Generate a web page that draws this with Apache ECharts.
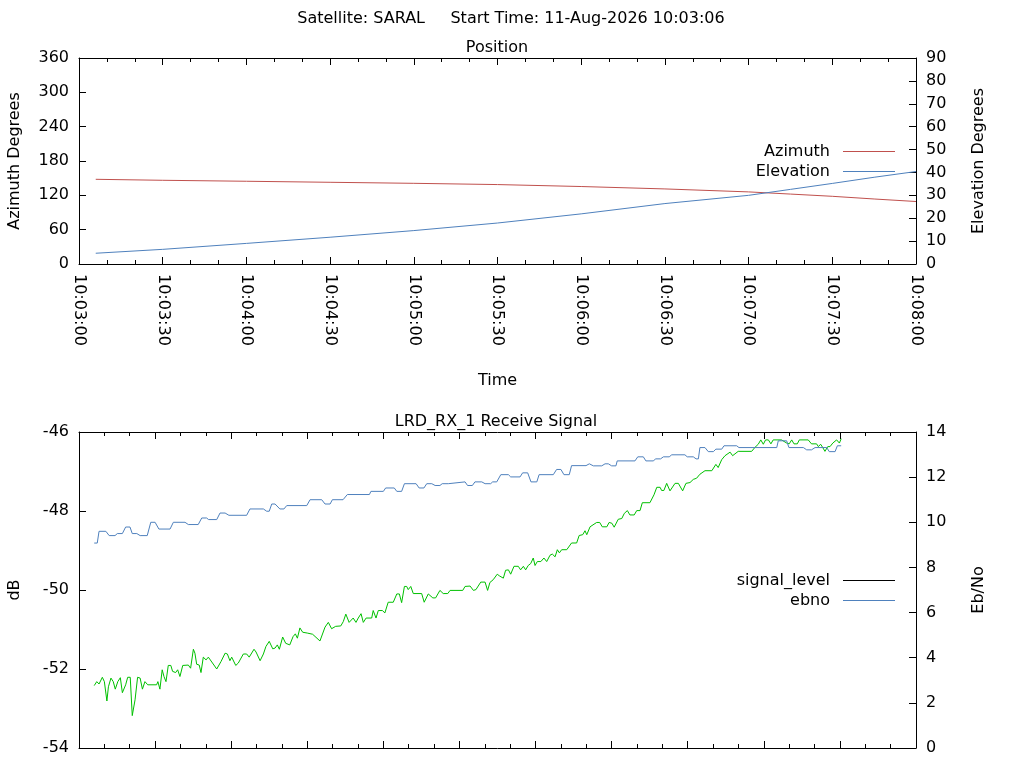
<!DOCTYPE html>
<html>
<head>
<meta charset="utf-8">
<script src="https://cdn.jsdelivr.net/npm/echarts@6/dist/echarts.min.js"></script>
<style>
html, body { margin: 0; padding: 0; background: #fff; }
#chart { width: 1024px; height: 768px; }
</style>
</head>
<body>
<div id="chart"></div>
<script>
// seconds after 10:03:00
var posTime = [6, 30, 60, 90, 120, 150, 180, 210, 240, 255, 270, 285, 300];
var azimuth = [148.0, 146.3, 144.6, 142.8, 141.0, 138.8, 135.4, 131.2, 126.0, 122.2, 118.3, 113.6, 109.2];
var elevation = [4.7, 6.4, 9.0, 11.7, 14.6, 17.9, 21.9, 26.4, 30.0, 32.6, 35.2, 37.9, 40.4];

var sigTime = [6,7,7.9,9.2,10,11,11.6,12.6,13.5,14.3,
    15.3,16.3,17.1,18.4,19.2,20.2,21,22.1,23.1,24.1,
    25,26,27.1,30.6,31.1,31.9,32.8,33.5,34.3,35.2,
    36.2,36.9,38.1,38.9,39.8,40.9,43.1,44,45.1,45.7,
    46.4,47.4,48.1,49,50.1,51,54.3,56,57.6,58.5,
    59.5,60.2,61.8,62.8,64.8,66.1,67.1,69,69.8,71.4,
    72.7,73.7,75,76.4,77.3,78.2,79,80.3,81.5,83.1,
    84.4,85.3,86.1,87.1,88.2,90,92.1,95,97,98.3,
    99.6,101.2,103.2,104.2,105.2,106.5,108.1,109.2,110.1,111.2,
    112.1,113.2,115.4,116,117.1,118,119.6,120.6,121.9,123.9,
    125.3,126.3,127.2,128.3,129.2,129.8,130.8,131.8,135.1,136.1,
    137.7,139.5,140.6,142.3,143.6,145.4,146.3,151.3,152.2,154.2,
    155.5,156.5,158.4,160.1,161.1,162,163.3,164.9,165.7,167.3,
    168.2,169.3,170.2,171.5,173.2,174.1,175.2,176.1,177.1,178.1,
    179.1,179.8,180.7,182.1,183.3,184.4,185.7,186.6,187.7,188.6,
    189.4,190.3,192.3,194.2,196.2,197.2,198.6,199.5,200.2,201.5,
    204.1,205.3,206.3,208.1,209,210.1,211,212.6,214,215,
    216.2,217.2,218.9,219.9,221.2,222.1,225.1,226.7,227.8,229.1,
    229.7,230.6,231.7,233,235,236.3,238,239.3,240.9,242.2,
    243.5,244.8,246.8,249.5,251.1,252,253.4,254.7,256.7,257.7,
    259.9,265.2,266.5,267.8,268.8,269.8,270.7,271.8,272.8,273.7,
    277,279,280,281,281.9,283.2,284,287.5,288.8,290.8,
    291.5,292.4,293.2,294.1,295.2,296.1,297.2,298.7,299.8,300.5];
var sigLevel = [-52.42,-52.32,-52.38,-52.21,-52.32,-52.81,-52.45,-52.23,-52.32,-52.51,
    -52.32,-52.22,-52.60,-52.40,-52.21,-52.21,-53.18,-52.78,-52.21,-52.23,
    -52.51,-52.32,-52.40,-52.40,-52.32,-52.51,-52.02,-52.19,-52.32,-51.91,
    -51.91,-52.06,-52.09,-52.02,-52.19,-51.91,-51.90,-51.98,-51.50,-51.60,
    -51.88,-51.90,-52.09,-51.70,-51.77,-51.70,-52.00,-51.81,-51.60,-51.62,
    -51.79,-51.70,-51.91,-51.85,-51.62,-51.62,-51.70,-51.50,-51.57,-51.79,
    -51.62,-51.43,-51.30,-51.49,-51.47,-51.39,-51.50,-51.19,-51.35,-51.39,
    -51.18,-51.11,-51.22,-50.96,-51.07,-51.09,-51.12,-51.29,-50.94,-50.82,
    -50.98,-50.92,-50.91,-50.80,-50.61,-50.82,-50.71,-50.82,-50.71,-50.60,
    -50.82,-50.71,-50.71,-50.52,-50.71,-50.52,-50.52,-50.58,-50.31,-50.31,
    -50.10,-50.10,-50.32,-49.91,-49.91,-49.99,-49.91,-50.09,-50.09,-50.31,
    -50.10,-50.20,-50.20,-50.01,-50.09,-50.09,-50.01,-50.01,-49.91,-49.90,
    -50.01,-49.99,-49.80,-49.80,-50.01,-49.81,-49.74,-49.60,-49.64,-49.70,
    -49.50,-49.49,-49.60,-49.40,-49.40,-49.49,-49.40,-49.49,-49.38,-49.33,
    -49.19,-49.38,-49.28,-49.28,-49.19,-49.28,-49.12,-49.09,-49.16,-48.98,
    -49.06,-48.98,-48.98,-48.81,-48.81,-48.62,-48.60,-48.50,-48.60,-48.40,
    -48.29,-48.29,-48.40,-48.40,-48.29,-48.31,-48.41,-48.21,-48.19,-48.06,
    -47.99,-48.10,-48.10,-47.99,-47.99,-47.79,-47.79,-47.59,-47.40,-47.40,
    -47.48,-47.48,-47.30,-47.49,-47.30,-47.30,-47.49,-47.30,-47.28,-47.20,
    -47.17,-47.07,-46.98,-46.98,-46.82,-46.90,-46.70,-46.60,-46.51,-46.60,
    -46.49,-46.49,-46.39,-46.31,-46.20,-46.31,-46.20,-46.20,-46.30,-46.20,
    -46.20,-46.28,-46.30,-46.20,-46.30,-46.30,-46.20,-46.20,-46.30,-46.30,
    -46.37,-46.31,-46.39,-46.49,-46.37,-46.37,-46.28,-46.20,-46.28,-46.17];

var ebnoTime = [6,7.2,7.9,10.6,11.9,14.2,15.1,17.1,18.4,20.1,
    21,22.8,24.1,26.9,28.3,30,31.5,35.9,37.2,41.8,
    43.1,47,48.4,50.3,51.1,54.3,55.6,57.6,59.1,66.1,
    67.4,72.7,74,75,76,77.3,79.2,80.8,81.9,89.8,
    91.1,95.7,97,99,99.9,104.1,105.8,114.5,115.1,120,
    120.9,124.3,125.3,127.2,128.3,132.9,134.1,136,137.1,139.1,
    140.4,142.3,143.2,145.6,146.3,152.2,153.2,155.1,156.1,158.8,
    160.1,162.3,163.1,164.7,166.3,169.3,170.2,173.9,174.9,176.9,
    178.2,180.5,181.4,187,188.3,190,191.2,193.3,194.2,199.9,
    201.2,202.8,206.1,207.4,208.7,210,211.7,212.2,219.2,220.3,
    222.5,223.5,226.4,227.4,229.3,230.4,232.7,233.7,238.9,239.8,
    242.2,243.3,244.2,244.8,246.8,248.1,250.1,251.1,253.4,254.3,
    259.3,260.2,275.1,275.7,279,279.9,285.6,286.9,288.8,290.2,
    294.8,295.8,298.1,299,300.5];
var ebno = [9.08,9.08,9.60,9.60,9.41,9.41,9.50,9.50,9.79,9.79,
    9.50,9.50,9.41,9.41,10.00,10.00,9.70,9.70,10.00,10.00,
    9.90,9.90,10.19,10.19,10.12,10.12,10.41,10.41,10.31,10.31,
    10.59,10.59,10.49,10.49,10.81,10.81,10.59,10.59,10.74,10.74,
    11.00,11.00,10.81,10.81,11.00,11.00,11.23,11.23,11.37,11.37,
    11.52,11.52,11.37,11.37,11.71,11.71,11.52,11.52,11.71,11.71,
    11.63,11.63,11.71,11.71,11.79,11.79,11.63,11.63,11.79,11.79,
    11.71,11.71,11.79,11.79,12.11,12.11,12.01,12.01,12.19,12.19,
    11.79,11.79,12.11,12.11,12.34,12.34,12.11,12.11,12.51,12.51,
    12.59,12.50,12.50,12.59,12.59,12.50,12.50,12.72,12.72,12.90,
    12.90,12.72,12.72,12.81,12.81,12.90,12.90,12.99,12.99,12.90,
    12.90,12.81,12.81,13.31,13.31,13.13,13.13,13.24,13.24,13.39,
    13.39,13.31,13.31,13.61,13.61,13.31,13.31,13.21,13.21,13.31,
    13.31,13.13,13.13,13.39,13.39];

function pairs(xs, ys) {
    var out = [];
    for (var i = 0; i < xs.length; i++) out.push([xs[i], ys[i]]);
    return out;
}
function clock(s) {
    var t = 10 * 3600 + 3 * 60 + s;
    var h = Math.floor(t / 3600), m = Math.floor(t % 3600 / 60), sec = t % 60;
    function p(n) { return (n < 10 ? '0' : '') + n; }
    return p(h) + ':' + p(m) + ':' + p(sec);
}

var FONT = 'DejaVu Sans';
var FS = 16;
var txt = { fontFamily: FONT, fontSize: FS, color: '#000' };
var LINE_ICON = 'path://M0,6.5H52V7.5H0Z';

function xAx(grid, max, pos, labels, name) {
    return {
        type: 'value', gridIndex: grid, position: pos, min: 0, max: max, interval: 30,
        axisLine: { show: true, onZero: false, lineStyle: { color: '#000', width: 1 } },
        axisTick: { show: true, inside: true, length: 7, lineStyle: { color: '#000' } },
        minorTick: { show: true, splitNumber: 3, length: 4, lineStyle: { color: '#000' } },
        splitLine: { show: false },
        axisLabel: labels ? {
            show: true, rotate: -90, margin: 10, formatter: clock,
            fontFamily: FONT, fontSize: FS, color: '#000'
        } : { show: false },
        name: name || '', nameLocation: 'middle', nameGap: 109,
        nameTextStyle: txt
    };
}
function yAx(grid, pos, min, max, step, name, gap) {
    return {
        type: 'value', gridIndex: grid, position: pos, min: min, max: max, interval: step,
        axisLine: { show: true, onZero: false, lineStyle: { color: '#000', width: 1 } },
        axisTick: { show: true, inside: true, length: 7, lineStyle: { color: '#000' } },
        splitLine: { show: false },
        axisLabel: { margin: 10, fontFamily: FONT, fontSize: FS, color: '#000' },
        name: name, nameLocation: 'middle', nameGap: gap,
        nameRotate: 90, nameTextStyle: txt
    };
}

var legendText = { fontFamily: FONT, fontSize: FS, color: '#000', padding: [0, 8, 0, 0] };

var chart = echarts.init(document.getElementById('chart'));
chart.setOption({
    animation: false,
    backgroundColor: '#fff',
    title: [
        { text: 'Satellite: SARAL     Start Time: 11-Aug-2026 10:03:06', left: 506, top: 6, textAlign: 'center',
          textStyle: { fontFamily: FONT, fontSize: FS, fontWeight: 'normal', color: '#000' } },
        { text: 'Position', left: 492, top: 35, textAlign: 'center',
          textStyle: { fontFamily: FONT, fontSize: FS, fontWeight: 'normal', color: '#000' } },
        { text: 'LRD_RX_1 Receive Signal', left: 491, top: 409, textAlign: 'center',
          textStyle: { fontFamily: FONT, fontSize: FS, fontWeight: 'normal', color: '#000' } }
    ],
    legend: [
        {
            orient: 'vertical', right: 124, top: 138.5, align: 'right',
            itemWidth: 52, itemHeight: 14, itemGap: 4,
            textStyle: legendText, selectedMode: false,
            data: [
                { name: 'Azimuth', itemStyle: { color: '#c0504d' }, icon: LINE_ICON },
                { name: 'Elevation', itemStyle: { color: '#4f81bd' }, icon: LINE_ICON }
            ]
        },
        {
            orient: 'vertical', right: 124, top: 567.5, align: 'right',
            itemWidth: 52, itemHeight: 14, itemGap: 4,
            textStyle: legendText, selectedMode: false,
            data: [
                { name: 'signal_level', itemStyle: { color: '#000' }, icon: LINE_ICON },
                { name: 'ebno', itemStyle: { color: '#4f81bd' }, icon: LINE_ICON }
            ]
        }
    ],
    grid: [
        { left: 79, top: 58, width: 837, height: 206, outerBoundsMode: 'none', containLabel: false },
        { left: 79, top: 432, width: 837, height: 316, outerBoundsMode: 'none', containLabel: false }
    ],
    xAxis: [
        xAx(0, 300, 'bottom', true, 'Time'),
        xAx(0, 300, 'top', false),
        xAx(1, 330, 'bottom', false),
        xAx(1, 330, 'top', false)
    ],
    yAxis: [
        yAx(0, 'left', 0, 360, 60, 'Azimuth Degrees', 56),
        yAx(0, 'right', 0, 90, 10, 'Elevation Degrees', 55),
        yAx(1, 'left', -54, -46, 2, 'dB', 56),
        yAx(1, 'right', 0, 14, 2, 'Eb/No', 55)
    ],
    series: [
        { name: 'Azimuth', type: 'line', xAxisIndex: 0, yAxisIndex: 0, showSymbol: false,
          data: pairs(posTime, azimuth), lineStyle: { color: '#c0504d', width: 1 }, itemStyle: { color: '#c0504d' } },
        { name: 'Elevation', type: 'line', xAxisIndex: 0, yAxisIndex: 1, showSymbol: false,
          data: pairs(posTime, elevation), lineStyle: { color: '#4f81bd', width: 1 }, itemStyle: { color: '#4f81bd' } },
        { name: 'signal_level', type: 'line', xAxisIndex: 2, yAxisIndex: 2, showSymbol: false,
          data: pairs(sigTime, sigLevel), lineStyle: { color: '#00c000', width: 1 }, itemStyle: { color: '#00c000' } },
        { name: 'ebno', type: 'line', xAxisIndex: 2, yAxisIndex: 3, showSymbol: false,
          data: pairs(ebnoTime, ebno), lineStyle: { color: '#4f81bd', width: 1 }, itemStyle: { color: '#4f81bd' } }
    ]
});
</script>
</body>
</html>
